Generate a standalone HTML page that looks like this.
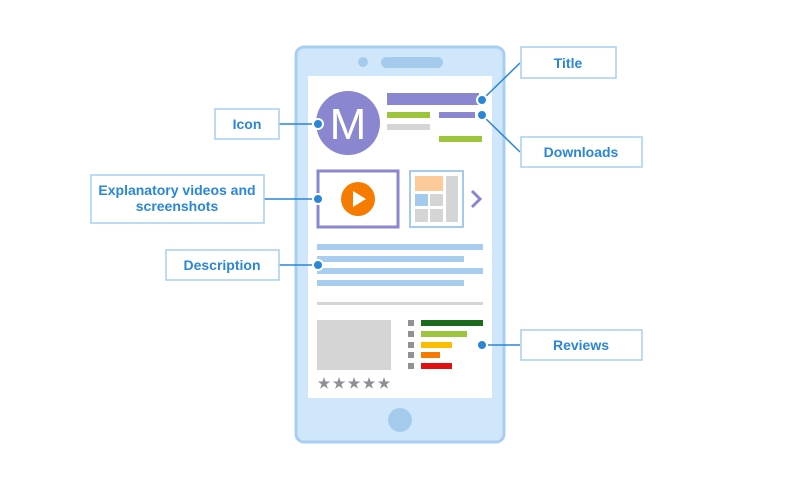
<!DOCTYPE html>
<html><head><meta charset="utf-8"><style>
html,body{margin:0;padding:0;background:#fff;width:800px;height:484px;overflow:hidden}
text{font-family:"Liberation Sans",sans-serif;font-weight:bold;font-size:14px;fill:#2a86d6}
</style></head><body>
<svg width="800" height="484" viewBox="0 0 800 484" xmlns="http://www.w3.org/2000/svg">
<rect x="296" y="47" width="208" height="395" rx="8" fill="#cfe6fb" stroke="#a8cff0" stroke-width="3"/>
<circle cx="363" cy="62" r="5" fill="#a5cbec"/>
<rect x="381" y="57" width="62" height="11" rx="5.5" fill="#a5cbec"/>
<rect x="308" y="76" width="184" height="322" fill="#fff"/>
<circle cx="400" cy="420" r="12" fill="#a5cbec"/>
<circle cx="348" cy="123" r="32" fill="#8a86cf"/>
<text x="348" y="139" text-anchor="middle" style="font-size:44px;fill:#fff;font-weight:normal">M</text>
<rect x="387" y="93" width="92" height="12" fill="#8a86cf"/>
<rect x="387" y="112" width="43" height="6" fill="#9cc43c"/>
<rect x="387" y="124" width="43" height="6" fill="#d5d5d5"/>
<rect x="439" y="112" width="36" height="6" fill="#8a86cf"/>
<rect x="439" y="136" width="43" height="6" fill="#9cc43c"/>
<rect x="318" y="171" width="80" height="56" fill="#fff" stroke="#8a86cf" stroke-width="3"/>
<circle cx="358" cy="199" r="17" fill="#f57c00"/>
<polygon points="353,191 353,207 366,199" fill="#fff"/>
<rect x="410" y="171" width="53" height="56" fill="#fff" stroke="#a5cbec" stroke-width="2"/>
<rect x="415" y="176" width="28" height="15" fill="#fdcb9a"/>
<rect x="446" y="176" width="12" height="46" fill="#d5d5d5"/>
<rect x="415" y="194" width="13" height="12" fill="#a5cbec"/>
<rect x="430" y="194" width="13" height="12" fill="#d5d5d5"/>
<rect x="415" y="209" width="13" height="13" fill="#d5d5d5"/>
<rect x="430" y="209" width="13" height="13" fill="#d5d5d5"/>
<polyline points="472,191 480,199 472,207" fill="none" stroke="#8a86cf" stroke-width="3"/>
<rect x="317" y="244" width="166" height="6" fill="#a8cdee"/>
<rect x="317" y="256" width="147" height="6" fill="#a8cdee"/>
<rect x="317" y="268" width="166" height="6" fill="#a8cdee"/>
<rect x="317" y="280" width="147" height="6" fill="#a8cdee"/>
<rect x="317" y="302" width="166" height="3" fill="#d5d5d5"/>
<rect x="317" y="320" width="74" height="50" fill="#d5d5d5"/>
<g style="font-size:16px;fill:#8e8e96;font-weight:normal" text-anchor="middle">
<text x="324" y="388" style="fill:#8e8e96">★</text>
<text x="339" y="388" style="fill:#8e8e96">★</text>
<text x="354" y="388" style="fill:#8e8e96">★</text>
<text x="369" y="388" style="fill:#8e8e96">★</text>
<text x="384" y="388" style="fill:#8e8e96">★</text>
</g>
<g fill="#8e9296">
<rect x="408" y="320" width="6" height="6"/><rect x="408" y="331" width="6" height="6"/><rect x="408" y="342" width="6" height="6"/><rect x="408" y="352" width="6" height="6"/><rect x="408" y="363" width="6" height="6"/>
</g>
<rect x="421" y="320" width="62" height="6" fill="#1b6b1e"/>
<rect x="421" y="331" width="46" height="6" fill="#9cc43c"/>
<rect x="421" y="342" width="31" height="6" fill="#fbbd00"/>
<rect x="421" y="352" width="19" height="6" fill="#f57c00"/>
<rect x="421" y="363" width="31" height="6" fill="#e21111"/>
<g stroke="#2a86d6" stroke-width="1.5" fill="none">
<line x1="279" y1="124" x2="318" y2="124"/>
<line x1="264" y1="199" x2="318" y2="199"/>
<line x1="279" y1="265" x2="318" y2="265"/>
<line x1="482" y1="100" x2="520" y2="63"/>
<line x1="482" y1="115" x2="520" y2="152"/>
<line x1="482" y1="345" x2="520" y2="345"/>
</g>
<g fill="#2a86d6" stroke="#fff" stroke-width="2">
<circle cx="318" cy="124" r="5"/>
<circle cx="318" cy="199" r="5"/>
<circle cx="318" cy="265" r="5"/>
<circle cx="482" cy="100" r="5"/>
<circle cx="482" cy="115" r="5"/>
<circle cx="482" cy="345" r="5"/>
</g>
<g fill="#fff" stroke="#a8cff0" stroke-width="1.5">
<rect x="215" y="109" width="64" height="30"/>
<rect x="91" y="175" width="173" height="48"/>
<rect x="166" y="250" width="113" height="30"/>
<rect x="521" y="47" width="95" height="31"/>
<rect x="521" y="137" width="121" height="30"/>
<rect x="521" y="330" width="121" height="30"/>
</g>
<text x="247" y="129" text-anchor="middle">Icon</text>
<text x="177" y="195" text-anchor="middle">Explanatory videos and</text>
<text x="177" y="211" text-anchor="middle">screenshots</text>
<text x="222" y="270" text-anchor="middle">Description</text>
<text x="568" y="68" text-anchor="middle">Title</text>
<text x="581" y="157" text-anchor="middle">Downloads</text>
<text x="581" y="350" text-anchor="middle">Reviews</text>
</svg>
</body></html>
